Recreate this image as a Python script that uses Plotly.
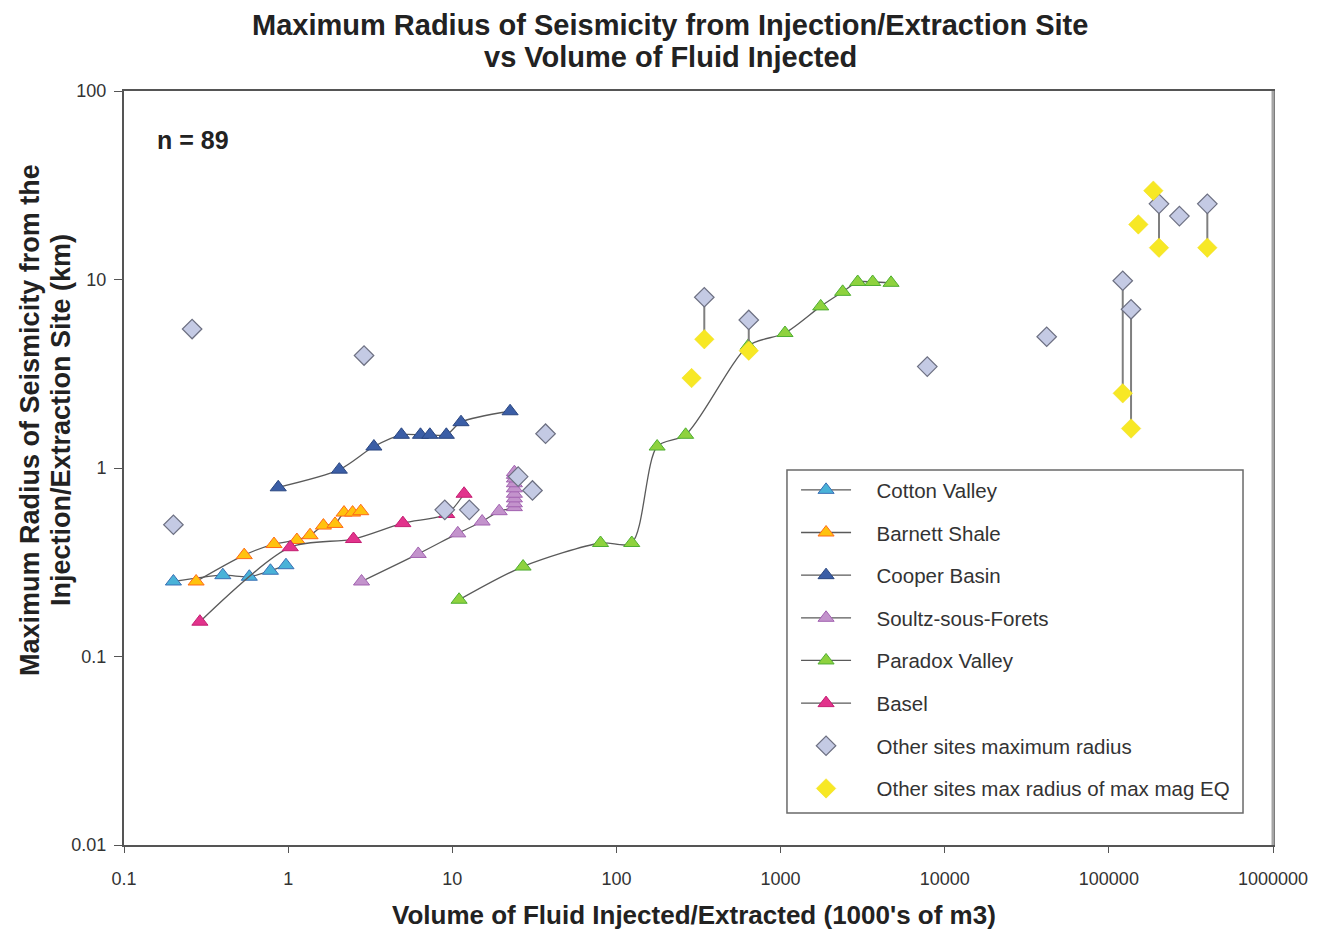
import plotly.graph_objects as go

# ---------------- data ----------------
cotton_x = [0.2, 0.4, 0.58, 0.78, 0.97]
cotton_y = [0.25, 0.27, 0.265, 0.285, 0.305]

barnett_x = [0.275, 0.54, 0.82, 1.13, 1.36, 1.64, 1.93, 2.19, 2.47, 2.77]
barnett_y = [0.25, 0.345, 0.395, 0.415, 0.44, 0.495, 0.505, 0.58, 0.58, 0.59]

cooper_x = [0.87, 2.05, 3.33, 4.9, 6.4, 7.3, 9.2, 11.3, 22.5]
cooper_y = [0.79, 0.98, 1.3, 1.5, 1.5, 1.5, 1.5, 1.75, 2.0]

soultz_x = [2.8, 6.2, 10.8, 15.2, 19.3, 23.9, 23.9, 23.9, 23.9, 23.9, 23.9, 23.9, 23.9, 23.9]
soultz_y = [0.25, 0.35, 0.45, 0.52, 0.59, 0.62, 0.65, 0.69, 0.73, 0.78, 0.83, 0.88, 0.92, 0.95]

paradox_x = [11, 27, 80, 124, 177, 264, 636, 1064, 1756, 2390, 2950, 3640, 4710]
paradox_y = [0.2, 0.3, 0.4, 0.4, 1.3, 1.5, 4.45, 5.2, 7.2, 8.6, 9.7, 9.7, 9.6]

basel_x = [0.29, 1.03, 2.5, 5.0, 9.25, 11.8]
basel_y = [0.153, 0.38, 0.42, 0.51, 0.57, 0.73]

other_x = [0.2, 0.26, 2.9, 9.0, 12.7, 25.2, 30.8, 37, 343, 640, 7830, 41800,
           121500, 136500, 202000, 269000, 398000]
other_y = [0.5, 5.46, 3.95, 0.60, 0.60, 0.90, 0.76, 1.52, 8.05, 6.1, 3.45, 4.97,
           9.85, 6.95, 25.2, 21.7, 25.2]

maxmag_x = [287, 343, 640, 186600, 151200, 202000, 398000, 121500, 136500]
maxmag_y = [3.0, 4.82, 4.19, 29.6, 19.6, 14.75, 14.75, 2.49, 1.62]

# (index in other, index in maxmag) pairs joined by a vertical line
pairs = [(8, 1), (9, 2), (12, 7), (13, 8), (14, 5), (16, 6)]

x_tickvals = [0.1, 1, 10, 100, 1000, 10000, 100000, 1000000]
x_ticktext = ["0.1", "1", "10", "100", "1000", "10000", "100000", "1000000"]
y_tickvals = [0.01, 0.1, 1, 10, 100]
y_ticktext = ["0.01", "0.1", "1", "10", "100"]

FONT = "Liberation Sans, Arial, sans-serif"
LINE = "#5a5a5a"
PAD = "\u2002\u2002"

fig = go.Figure()

series = [
    ("Cotton Valley", cotton_x, cotton_y, "#49b2d8", "#3a70b5"),
    ("Barnett Shale", barnett_x, barnett_y, "#ffc20e", "#ff6a1a"),
    ("Cooper Basin", cooper_x, cooper_y, "#3b5ea6", "#2a4680"),
    ("Soultz-sous-Forets", soultz_x, soultz_y, "#c393cc", "#a262b0"),
    ("Paradox Valley", paradox_x, paradox_y, "#8ed23e", "#4fae32"),
    ("Basel", basel_x, basel_y, "#e2338c", "#c41f72"),
]
for i, (name, xs, ys, fill, edge) in enumerate(series):
    fig.add_trace(go.Scatter(
        x=xs, y=ys, name=PAD + name, mode="lines+markers",
        line=dict(color=LINE, width=1.3, shape="spline", smoothing=0.8),
        marker=dict(symbol="triangle-up", size=14, color=fill,
                    line=dict(color=edge, width=1)),
        legendgroup=f"g{i}",
    ))

cx, cy = [], []
for oi, mi in pairs:
    cx += [other_x[oi], other_x[oi], None]
    cy += [other_y[oi], maxmag_y[mi], None]
fig.add_trace(go.Scatter(x=cx, y=cy, mode="lines", showlegend=False,
                         line=dict(color="#7f7f7f", width=2), hoverinfo="skip"))

fig.add_trace(go.Scatter(
    x=other_x, y=other_y, name=PAD + "Other sites maximum radius", mode="markers",
    marker=dict(symbol="diamond", size=15, color="#c4cae4",
                line=dict(color="#6d7082", width=1.2)),
    legendgroup="g6",
))
fig.add_trace(go.Scatter(
    x=maxmag_x, y=maxmag_y, name=PAD + "Other sites max radius of max mag EQ", mode="markers",
    marker=dict(symbol="diamond", size=15, color="#f7e825",
                line=dict(color="#f0dc20", width=0.5)),
    legendgroup="g7",
))

# texts (positions in paper coords of the plot area)
ann = dict(xref="paper", yref="paper", showarrow=False)
fig.add_annotation(text="<b>Maximum Radius of Seismicity from Injection/Extraction Site</b>",
                   x=0.4756, y=(845 - 25) / 754, xanchor="center", yanchor="middle",
                   font=dict(family=FONT, size=29, color="#222"), **ann)
fig.add_annotation(text="<b>vs Volume of Fluid Injected</b>",
                   x=0.4756, y=(845 - 57) / 754, xanchor="center", yanchor="middle",
                   font=dict(family=FONT, size=29, color="#222"), **ann)
fig.add_annotation(text="<b>n = 89</b>", x=0.027, y=0.935, xanchor="left", yanchor="middle",
                   font=dict(family=FONT, size=25, color="#222"), **ann)
fig.add_annotation(text="<b>Volume of Fluid Injected/Extracted (1000's of m3)</b>",
                   x=0.4965, y=-0.0928, xanchor="center", yanchor="middle",
                   font=dict(family=FONT, size=26, color="#222"), **ann)
fig.add_annotation(text="<b>Maximum Radius of Seismicity from the</b>",
                   x=(30 - 124) / 1149, y=0.5637, xanchor="center", yanchor="middle",
                   textangle=-90, font=dict(family=FONT, size=27, color="#222"), **ann)
fig.add_annotation(text="<b>Injection/Extraction Site (km)</b>",
                   x=(61 - 124) / 1149, y=0.5637, xanchor="center", yanchor="middle",
                   textangle=-90, font=dict(family=FONT, size=27, color="#222"), **ann)

# legend frame and lighter right border
fig.add_shape(type="rect", xref="paper", yref="paper", x0=0.577, x1=0.9739,
              y0=0.0424, y1=0.4973, line=dict(color="#6a6a6a", width=1.5),
              fillcolor="white", layer="below")
fig.add_shape(type="line", xref="paper", yref="paper", x0=1.0, x1=1.0, y0=0, y1=1,
              line=dict(color="#a5a5a5", width=3), layer="above")

fig.update_layout(
    width=1311, height=923,
    paper_bgcolor="white", plot_bgcolor="white",
    margin=dict(l=116, r=46, t=83, b=86),
    font=dict(family=FONT, color="#333"),
    legend=dict(x=0.5849, y=0.4973, xanchor="left", yanchor="top",
                bgcolor="rgba(0,0,0,0)", borderwidth=0,
                font=dict(family=FONT, size=20.5, color="#333"),
                traceorder="grouped", tracegroupgap=13, itemwidth=50),
    showlegend=True,
)
fig.update_xaxes(
    type="log", range=[-1, 6], tickvals=x_tickvals, ticktext=x_ticktext,
    showgrid=False, zeroline=False, showline=True, linecolor="#555", linewidth=2,
    mirror=True, ticks="outside", ticklen=6, tickcolor="#555",
    ticklabelstandoff=10,
    tickfont=dict(family=FONT, size=18, color="#333"),
)
fig.update_yaxes(
    type="log", range=[-2, 2], tickvals=y_tickvals, ticktext=y_ticktext,
    showgrid=False, zeroline=False, showline=True, linecolor="#555", linewidth=2,
    mirror=True, ticks="outside", ticklen=8, tickcolor="#555",
    ticklabelstandoff=4,
    tickfont=dict(family=FONT, size=18, color="#333"),
)

fig.write_html("out.html")
